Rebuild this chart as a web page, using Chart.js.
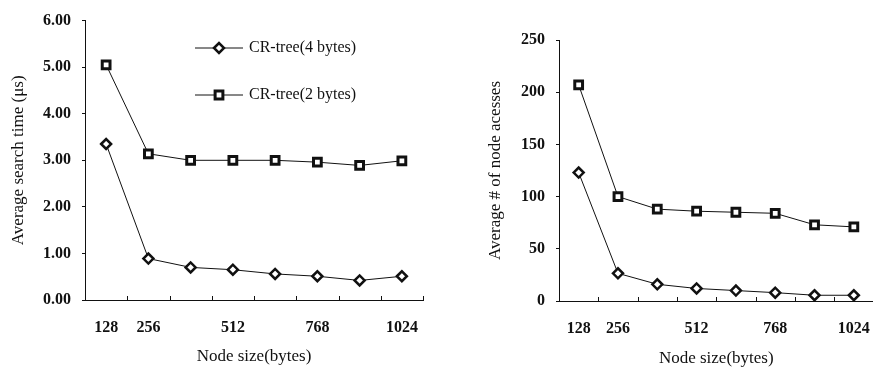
<!DOCTYPE html>
<html lang="en">
<head>
  <meta charset="UTF-8">
  <title>CR-tree node size</title>
  <script src="https://cdn.jsdelivr.net/npm/chart.js"></script>
  <style>
    html, body { margin: 0; background: #fff; overflow: hidden; }
    .box { position: absolute; top: 0; height: 369px; }
    #leftBox { left: 0; width: 440px; }
    #rightBox { left: 440px; width: 442px; }
  </style>
</head>
<body>
  <div class="box" id="leftBox"><canvas id="timeChart"></canvas></div>
  <div class="box" id="rightBox"><canvas id="accessChart"></canvas></div>

  <script>
    const nodeSizes = [128, 256, 384, 512, 640, 768, 896, 1024];
    const shownSizes = [128, 256, 512, 768, 1024];

    const timeCr4 = [3.35, 0.89, 0.70, 0.65, 0.56, 0.51, 0.42, 0.51];
    const timeCr2 = [5.05, 3.14, 3.00, 3.00, 3.00, 2.96, 2.89, 2.99];

    const accessCr4 = [123, 26.5, 16, 12, 10, 8, 5.5, 5.5];
    const accessCr2 = [207, 100, 88, 86, 85, 84, 73, 71];

    const ink = '#111';
    const serif = '"Liberation Serif", "DejaVu Serif", serif';

    // small upward ticks at the category boundaries of the x axis
    const innerTicks = {
      id: 'innerTicks',
      afterDraw(chart) {
        const x = chart.scales.x, ctx = chart.ctx;
        const step = (x.right - x.left) / nodeSizes.length;
        ctx.save();
        ctx.strokeStyle = ink;
        ctx.lineWidth = 1;
        for (let i = 1; i <= nodeSizes.length; i++) {
          const px = Math.round(x.left + i * step) + 0.5;
          ctx.beginPath();
          ctx.moveTo(px, x.top);
          ctx.lineTo(px, x.top - 4);
          ctx.stroke();
        }
        ctx.restore();
      }
    };

    // legend drawn inside the plot: line - marker - line, then label
    const inlineLegend = {
      id: 'inlineLegend',
      afterDraw(chart, args, opts) {
        if (!opts.show) return;
        const ctx = chart.ctx;
        chart.data.datasets.forEach((ds, i) => {
          const y = opts.top + i * opts.gap;
          ctx.save();
          ctx.strokeStyle = ds.borderColor;
          ctx.lineWidth = 1;
          ctx.beginPath();
          ctx.moveTo(opts.left, y);
          ctx.lineTo(opts.left + opts.lineLen, y);
          ctx.stroke();
          ctx.fillStyle = ds.pointBackgroundColor;
          ctx.strokeStyle = ds.pointBorderColor;
          ctx.lineWidth = ds.pointBorderWidth;
          Chart.helpers.drawPoint(ctx, {
            pointStyle: ds.pointStyle, radius: ds.pointRadius,
            borderWidth: ds.pointBorderWidth, rotation: 0
          }, opts.left + opts.lineLen / 2, y);
          ctx.fillStyle = ink;
          ctx.font = '16px ' + serif;
          ctx.textBaseline = 'middle';
          ctx.fillText(ds.label, opts.left + opts.lineLen + 6, y);
          ctx.restore();
        });
      }
    };

    function series(label, data, style, radius, bw) {
      return {
        label, data,
        borderColor: ink, borderWidth: 1,
        pointStyle: style, pointRadius: radius,
        pointBackgroundColor: '#fff', pointBorderColor: ink, pointBorderWidth: bw,
        tension: 0
      };
    }

    function makeChart(id, cfg) {
      return new Chart(document.getElementById(id), {
        type: 'line',
        data: {
          labels: nodeSizes,
          datasets: [
            series('CR-tree(4 bytes)', cfg.cr4, 'rectRot', 5, 2.5),
            series('CR-tree(2 bytes)', cfg.cr2, 'rect', 5.5, 3)
          ]
        },
        plugins: [innerTicks, inlineLegend],
        options: {
          responsive: true,
          maintainAspectRatio: false,
          animation: false,
          layout: { padding: cfg.pad },
          plugins: {
            legend: { display: false },
            tooltip: { enabled: false },
            inlineLegend: cfg.legend
          },
          scales: {
            x: {
              type: 'category',
              offset: true,
              afterFit: s => { s.height = cfg.xHeight; s.paddingLeft = 0; s.paddingRight = 0; },
              grid: { display: true, drawOnChartArea: false, drawTicks: false, color: ink },
              border: { display: true, color: ink, width: 1 },
              ticks: {
                color: ink, padding: 18, maxRotation: 0, autoSkip: false,
                font: { family: serif, size: 16, weight: 'bold' },
                callback: function (v, i) {
                  const n = nodeSizes[i];
                  return shownSizes.includes(n) ? String(n) : '';
                }
              },
              title: {
                display: true, text: 'Node size(bytes)', color: ink,
                font: { family: serif, size: 17 }, padding: { bottom: cfg.xTitlePad, top: 0 }
              }
            },
            y: {
              min: cfg.min, max: cfg.max,
              afterFit: s => { s.width = cfg.yWidth; },
              grid: { drawOnChartArea: false, drawTicks: true, tickLength: 3, color: ink },
              border: { display: true, color: ink, width: 1 },
              ticks: {
                stepSize: cfg.step, color: ink, padding: 11,
                font: { family: serif, size: 16, weight: 'bold' },
                callback: cfg.fmt
              },
              title: {
                display: true, text: cfg.yTitle, color: ink,
                font: { family: serif, size: 17 }, padding: { top: cfg.yTitlePad, bottom: 0 }
              }
            }
          }
        }
      });
    }

    makeChart('timeChart', {
      cr4: timeCr4, cr2: timeCr2,
      min: 0, max: 6, step: 1,
      fmt: v => v.toFixed(2),
      yTitle: 'Average search time (μs)',
      pad: { top: 15, right: 17, left: 0, bottom: 0 },
      xHeight: 69, yWidth: 85, xTitlePad: 2, yTitlePad: 8,
      legend: { show: true, left: 195, lineLen: 48, top: 48, gap: 47 }
    });

    makeChart('accessChart', {
      cr4: accessCr4, cr2: accessCr2,
      min: 0, max: 250, step: 50,
      fmt: v => String(v),
      yTitle: 'Average # of node acesses',
      pad: { top: 40, right: 0, left: 0, bottom: 0 },
      xHeight: 68, yWidth: 119, xTitlePad: 0, yTitlePad: 45,
      legend: { show: false }
    });
  </script>
</body>
</html>
